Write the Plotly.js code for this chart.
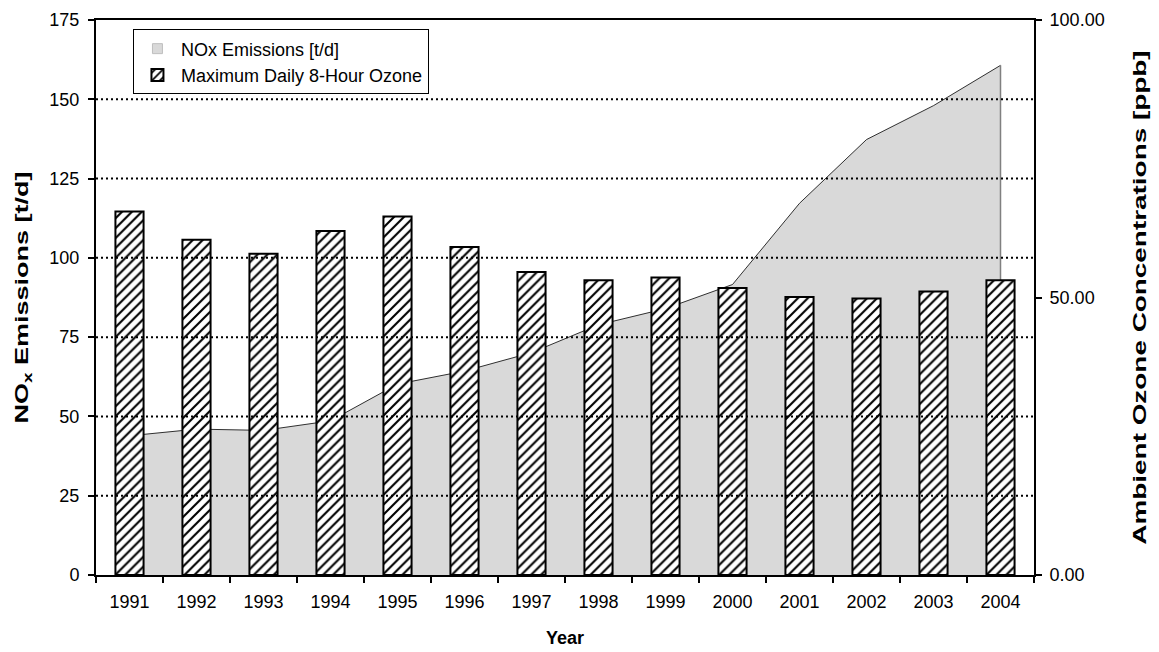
<!DOCTYPE html>
<html>
<head>
<meta charset="utf-8">
<script src="https://cdn.plot.ly/plotly-3.0.1.min.js"></script>
<style>html,body{margin:0;padding:0;background:#fff;}#chart{width:1159px;height:652px;}</style>
</head>
<body>
<div id="chart"></div>
<script>
const categories = ['1991','1992','1993','1994','1995','1996','1997','1998','1999','2000','2001','2002','2003','2004'];
const noxEmissions = [43.9, 46.0, 45.6, 48.6, 60.2, 64.3, 70.1, 78.9, 84.0, 91.6, 117.2, 137.3, 148.0, 160.7];
const ozoneMax = [65.5, 60.4, 57.9, 62.0, 64.6, 59.1, 54.6, 53.1, 53.6, 51.7, 50.1, 49.8, 51.1, 53.1];
const leftTicks = [0, 25, 50, 75, 100, 125, 150, 175];
const gridValues = [25, 50, 75, 100, 125, 150];
const rightTicks = [0, 50, 100];

const FONT = 'Arial, "Liberation Sans", sans-serif';
const last = categories.length - 1;

const traces = [
  {
    type: 'scatter', mode: 'lines', name: 'NOx Emissions [t/d]', showlegend: true,
    x: categories, y: noxEmissions, fill: 'tozeroy',
    fillcolor: '#d9d9d9', line: {color: '#000', width: 0.8}
  },
  {
    type: 'scatter', mode: 'lines', showlegend: false,
    x: [categories[last], categories[last]], y: [0, noxEmissions[last]],
    line: {color: '#808080', width: 1.5}, hoverinfo: 'skip'
  },
  {
    type: 'bar', name: 'Maximum Daily 8-Hour Ozone',
    x: categories, y: ozoneMax, yaxis: 'y2', width: 0.42,
    marker: {
      color: '#fff',
      line: {color: '#000', width: 2},
      pattern: {shape: '/', fgcolor: '#000', bgcolor: '#fff', size: 7, solidity: 0.3}
    }
  }
];

const shapes = gridValues.map(v => ({
  type: 'line', xref: 'paper', x0: 0, x1: 1, yref: 'y', y0: v, y1: v,
  line: {color: '#000', width: 2, dash: '2px,3px'}, layer: 'above'
}));

const layout = {
  width: 1159, height: 652,
  margin: {l: 96, r: 125, t: 20, b: 77},
  paper_bgcolor: '#fff', plot_bgcolor: '#fff',
  font: {family: FONT, size: 18, color: '#000'},
  showlegend: true,
  legend: {
    x: 0.0394, y: 0.983, xanchor: 'left', yanchor: 'top',
    bgcolor: '#fff', bordercolor: '#000', borderwidth: 1,
    font: {family: FONT, size: 18, color: '#000'},
    traceorder: 'normal', tracegroupgap: 0, itemwidth: 37
  },
  xaxis: {
    type: 'category', range: [-0.5, categories.length - 0.5],
    showline: true, linecolor: '#000', linewidth: 2, mirror: true,
    ticks: 'outside', tickson: 'boundaries', ticklen: 6, tickwidth: 2, tickcolor: '#000',
    showgrid: false, zeroline: false, ticklabelstandoff: 9,
    tickfont: {family: FONT, size: 18},
    title: {text: 'Year', font: {family: FONT, size: 18, weight: 'bold'}, standoff: 21}
  },
  yaxis: {
    range: [0, 175], tickvals: leftTicks,
    showline: true, linecolor: '#000', linewidth: 2,
    ticks: 'outside', ticklen: 6, tickwidth: 2, tickcolor: '#000',
    showgrid: false, zeroline: false, ticklabelstandoff: 5,
    tickfont: {family: FONT, size: 18},
    title: {text: 'NO<sub>x</sub> Emissions [t/d]', font: {family: FONT, size: 18, weight: 'bold'}, standoff: 16}
  },
  yaxis2: {
    overlaying: 'y', side: 'right', range: [0, 100], tickvals: rightTicks, tickformat: '.2f',
    showline: true, linecolor: '#000', linewidth: 2,
    ticks: 'outside', ticklen: 6, tickwidth: 2, tickcolor: '#000',
    showgrid: false, zeroline: false, ticklabelstandoff: 4,
    tickfont: {family: FONT, size: 18},
    title: {text: 'Ambient Ozone Concentrations [ppb]', font: {family: FONT, size: 18, weight: 'bold'}, standoff: 30}
  },
  shapes: shapes,
  bargap: 0.58
};

function stretchTitle(sel, k) {
  const g = document.querySelector(sel);
  if (!g) return;
  const r = g.getBoundingClientRect();
  const cx = r.left + r.width / 2, cy = r.top + r.height / 2;
  g.setAttribute('transform', `translate(${cx},${cy}) scale(1,${k}) translate(${-cx},${-cy})`);
}

function squareLegendSwatch() {
  const items = document.querySelectorAll('.legend .traces');
  if (items.length < 2) return;
  const barPath = items[1].querySelector('.legendpoints path');
  let cx = 20;
  if (barPath) {
    const bb = barPath.getBBox();
    const tl = barPath.transform && barPath.transform.baseVal;
    const m = tl && tl.numberOfItems ? tl.consolidate().matrix : null;
    cx = (m ? m.e : 0) + bb.x + bb.width / 2;
  }
  const fill = items[0].querySelector('.js-fill');
  if (fill) {
    fill.removeAttribute('transform');
    fill.setAttribute('d', `M${cx - 5},-5h10v10h-10z`);
    fill.style.stroke = '#bfbfbf';
    fill.style.strokeWidth = '1px';
  }
  items[0].querySelectorAll('.js-line').forEach(p => { p.style.display = 'none'; });
}

Plotly.newPlot('chart', traces, layout, {displayModeBar: false, staticPlot: true}).then(() => {
  stretchTitle('.g-ytitle', 1.5);
  stretchTitle('.g-y2title', 1.55);
  squareLegendSwatch();
});
</script>
</body>
</html>
